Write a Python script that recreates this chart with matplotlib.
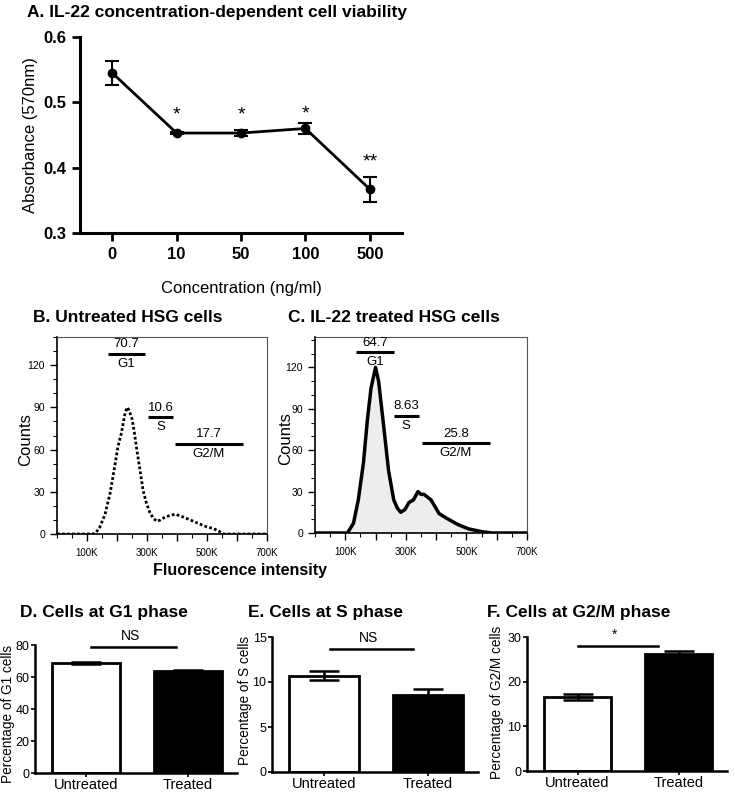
import numpy as np
import matplotlib
matplotlib.use("Agg")
import matplotlib.pyplot as plt
from matplotlib.ticker import MultipleLocator, FixedLocator

plt.rcParams['font.family'] = ['Liberation Sans', 'DejaVu Sans']

# ---------------- data ----------------
# A. viability
conc_labels = ["0", "10", "50", "100", "500"]
absorbance = [0.545, 0.453, 0.453, 0.460, 0.367]
absorbance_err = [0.019, 0.002, 0.005, 0.008, 0.019]
conc_sig = ["", "*", "*", "*", "**"]
conc_sig_y = [0, 0.481, 0.481, 0.482, 0.409]

# B. untreated histogram (fluorescence in K, counts)
untr_x = [0, 50, 100, 120, 130, 143, 160, 177, 190, 203, 215, 225, 233, 240, 250, 258, 266, 277,
          287, 298, 310, 322, 333, 345, 360, 375, 393, 410, 433, 455, 477, 500, 520, 540, 555, 600, 650, 700]
untr_counts = [0, 0, 0, 0, 1, 5, 14, 29, 45, 62, 72, 84, 90, 88, 82, 72, 60, 45,
               31, 22, 15, 11, 9, 10, 12, 13, 14, 13, 11, 9, 7, 5, 4, 2, 0, 0, 0, 0]

# C. treated histogram
trt_x = [0, 50, 100, 107, 127, 143, 160, 173, 185, 200, 210, 227, 243, 260, 272, 283, 297, 310,
         325, 340, 350, 360, 383, 410, 440, 473, 507, 550, 583, 650, 700]
trt_counts = [0, 0, 0, 0, 7, 24, 51, 82, 105, 120, 110, 77, 45, 24, 18, 15, 17, 22,
              24, 30, 28, 28, 24, 14, 10, 6, 3, 1, 0, 0, 0]

# gates: (label, value, x0, x1, y)
untr_gates = [("G1", "70.7", 170, 293, 128), ("S", "10.6", 303, 387, 83), ("G2/M", "17.7", 393, 620, 64)]
trt_gates = [("G1", "64.7", 137, 260, 131), ("S", "8.63", 260, 343, 85), ("G2/M", "25.8", 353, 577, 65)]

# D-F bar charts
groups = ["Untreated", "Treated"]
g1_pct = [68.8, 64.0]
g1_err = [0.6, 0.3]
s_pct = [10.7, 8.6]
s_err = [0.5, 0.6]
g2m_pct = [16.6, 26.1]
g2m_err = [0.7, 0.7]

W, H = 735, 792
fig = plt.figure(figsize=(W / 100, H / 100), dpi=100)


def rect(l, t, r, b):
    return [l / W, 1 - b / H, (r - l) / W, (b - t) / H]


def ftext(x, y, s, **kw):
    fig.text(x / W, 1 - y / H, s, **kw)


# ---------------- A ----------------
ax = fig.add_axes(rect(80, 37, 402, 233))
xs = np.arange(len(conc_labels))
ax.errorbar(xs, absorbance, yerr=absorbance_err, color='black', lw=2, marker='o', ms=6,
            capsize=5, capthick=1.5, elinewidth=1.5)
for i, s in enumerate(conc_sig):
    if s:
        ax.text(xs[i], conc_sig_y[i], s, ha='center', va='center', fontsize=14)
ax.set_xlim(-0.5, 4.5)
ax.set_ylim(0.3, 0.6)
ax.set_xticks(xs)
ax.set_xticklabels(conc_labels, fontsize=12, fontweight='bold')
ax.set_yticks([0.3, 0.4, 0.5, 0.6])
ax.set_yticklabels(["0.3", "0.4", "0.5", "0.6"], fontsize=12, fontweight='bold')
for sp in ['top', 'right']:
    ax.spines[sp].set_visible(False)
for sp in ['left', 'bottom']:
    ax.spines[sp].set_linewidth(2.2)
ax.tick_params(width=2, length=6, pad=4)
ax.set_xlabel("Concentration (ng/ml)", fontsize=12, labelpad=14)
ax.set_ylabel("Absorbance (570nm)", fontsize=12, va='center')
ax.yaxis.set_label_coords((30 - 80) / 322, 0.5)
ftext(27, 12, "A. IL-22 concentration-dependent cell viability", fontsize=12.5,
      fontweight='bold', va='center', ha='left')


# ---------------- B / C histograms ----------------
def hist_panel(r, x, y, gates, dotted, ytop, label_x):
    a = fig.add_axes(r)
    if dotted:
        a.plot(x, y, color='black', lw=2, ls=(0, (1, 0.8)))
    else:
        a.fill_between(x, y, color='#ededed', lw=0)
        a.plot(x, y, color='black', lw=2.5)
    for name, val, x0, x1, gy in gates:
        a.plot([x0, x1], [gy, gy], color='black', lw=2.2, solid_capstyle='butt')
        xc = (x0 + x1) / 2
        a.text(xc, gy + 2.5, val, ha='center', va='bottom', fontsize=9.5)
        a.text(xc, gy - 3, name, ha='center', va='top', fontsize=9.5)
    a.set_xlim(0, 700)
    a.set_ylim(0, ytop)
    a.xaxis.set_major_locator(FixedLocator([100, 200, 300, 400, 500, 600, 700]))
    a.set_xticklabels(["100K", "", "300K", "", "500K", "", "700K"], fontsize=7)
    a.xaxis.set_minor_locator(MultipleLocator(50))
    a.yaxis.set_major_locator(MultipleLocator(30))
    a.yaxis.set_minor_locator(MultipleLocator(10))
    a.tick_params(axis='y', labelsize=7.5, width=1, length=5)
    a.tick_params(axis='x', width=1, length=5, pad=5)
    a.tick_params(which='minor', width=0.8, length=3)
    a.spines['left'].set_linewidth(1.2)
    a.spines['bottom'].set_linewidth(1.2)
    for sp in ['top', 'right']:
        a.spines[sp].set_color('#555555')
        a.spines[sp].set_linewidth(0.8)
    a.set_ylabel("Counts", fontsize=12, va='center')
    a.yaxis.set_label_coords(label_x, 0.48)
    return a


hist_panel(rect(57, 337, 267, 534), untr_x, untr_counts, untr_gates, True, 140, -0.148)
hist_panel(rect(315, 337, 527, 533), trt_x, trt_counts, trt_gates, False, 142, -0.14)
ftext(33, 318, "B. Untreated HSG cells", fontsize=12.5, fontweight='bold', va='center', ha='left')
ftext(288, 318, "C. IL-22 treated HSG cells", fontsize=12.5, fontweight='bold', va='center', ha='left')
ftext(240, 571, "Fluorescence intensity", fontsize=11.5, fontweight='bold', va='center', ha='center')


# ---------------- D-F bars ----------------
def bar_panel(r, vals, errs, ytop, ystep, ylabel, lab_xy, sig, sig_y, sig_x, title, tx):
    a = fig.add_axes(r)
    bx = np.arange(2)
    a.bar(bx, vals, width=0.67, color=['white', 'black'], edgecolor='black', lw=2, zorder=2)
    a.errorbar(bx, vals, yerr=errs, fmt='none', ecolor='black', elinewidth=1.8,
               capsize=11, capthick=1.8, zorder=3)
    a.set_xlim(-0.5, 1.48)
    a.set_ylim(0, ytop)
    a.set_xticks(bx)
    a.set_xticklabels(groups, fontsize=10.5)
    a.yaxis.set_major_locator(MultipleLocator(ystep))
    a.tick_params(axis='y', labelsize=9, width=1.2, length=3, pad=1)
    a.tick_params(axis='x', width=1.2, length=3, pad=0.5)
    for sp in ['top', 'right']:
        a.spines[sp].set_visible(False)
    for sp in ['left', 'bottom']:
        a.spines[sp].set_linewidth(1.8)
    a.set_ylabel(ylabel, fontsize=9.8, va='center')
    a.yaxis.set_label_coords(*lab_xy)
    a.plot([sig_x[0], sig_x[1]], [sig_y, sig_y], color='black', lw=1.8, clip_on=False)
    a.text((sig_x[0] + sig_x[1]) / 2 - 0.03, sig_y + ytop * 0.03, sig, ha='center', va='bottom',
           fontsize=10, clip_on=False)
    ftext(tx, 613, title, fontsize=12.5, fontweight='bold', va='center', ha='left')
    return a


bar_panel(rect(35, 645, 237, 773), g1_pct, g1_err, 80, 20, "Percentage of G1 cells", (-0.134, 0.46),
          "NS", 79, (0.05, 0.88), "D. Cells at G1 phase", 20)
bar_panel(rect(272, 637, 478, 772), s_pct, s_err, 15, 5, "Percentage of S cells", (-0.131, 0.53),
          "NS", 13.7, (0.06, 0.86), "E. Cells at S phase", 248)
bar_panel(rect(527, 637, 727, 771), g2m_pct, g2m_err, 30, 10, "Percentage of G2/M cells", (-0.15, 0.51),
          "*", 28, (0.0, 0.8), "F. Cells at G2/M phase", 487)

fig.savefig("out.png", dpi=100)
